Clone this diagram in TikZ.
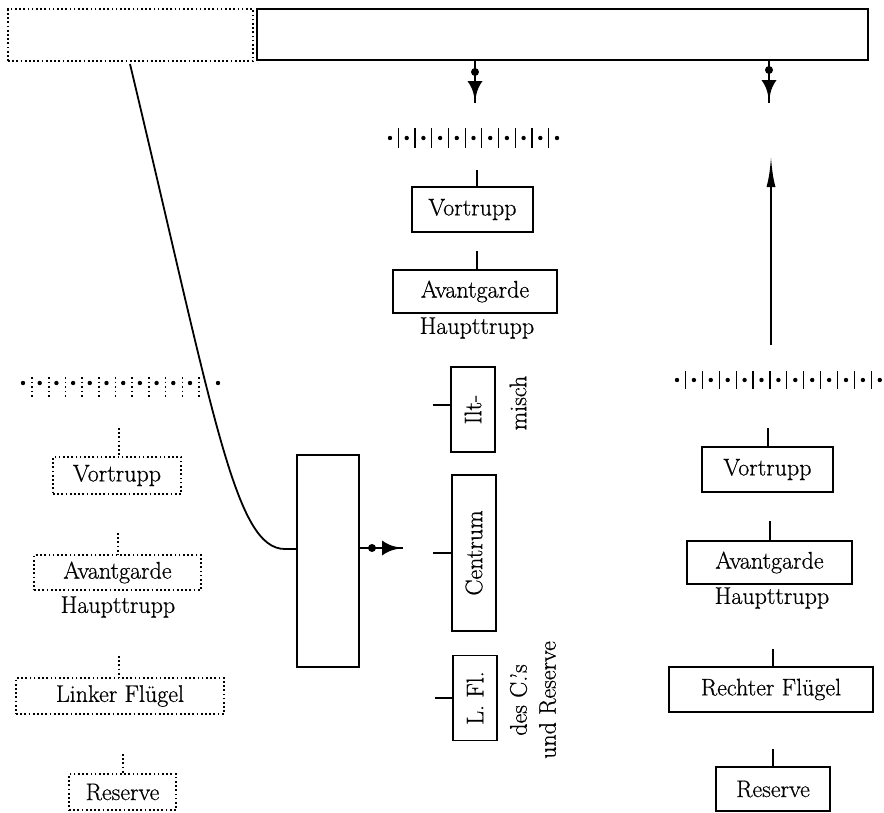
\documentclass[tikz,border=0pt]{standalone}
\usepackage{fontspec}
\setmainfont{Latin Modern Roman}[FakeBold=0.6]
\usetikzlibrary{calc}
\begin{document}
\begin{tikzpicture}[x=1pt,y=-1pt,
  every node/.style={font=\fontsize{24}{29}\selectfont, inner sep=0pt, outer sep=0pt},
  solidbox/.style={draw, line width=1.6pt},
  thickbox/.style={draw, line width=2.4pt},
  dotbox/.style={draw, line width=1.7pt, dash pattern=on 1.7pt off 2.5pt},
  tick/.style={line width=1.5pt},
  dottick/.style={line width=1.7pt, dash pattern=on 1.7pt off 2.5pt},
  bar/.style={line width=1.2pt},
  dotbar/.style={line width=1.6pt, dash pattern=on 1.6pt off 3pt},
  conn/.style={line width=1.8pt}]
\useasboundingbox (0,0) rectangle (884,812);
\fill[white] (0,0) rectangle (884,812);

% top boxes
\node[dotbox, minimum width=245pt, minimum height=52pt] (topL) at (130.5,35) {};
\node[thickbox, minimum width=611pt, minimum height=51pt] (topR) at (562.5,34.5) {};

% middle column
\node[solidbox, minimum width=121pt, minimum height=45pt] (mVor) at (472.5,209.5) {Vortrupp};
\node[solidbox, minimum width=164pt, minimum height=43pt] (mAv) at (475,291.5) {Avantgarde};
\node (mHaupt) at (477,328) {Haupttrupp};
\node[solidbox, minimum width=44pt, minimum height=85pt] (mIlt) at (473,409.5) {};
\node[rotate=90] (mIltT) at (mIlt) {Ilt-};
\node[rotate=90] (misch) at (518,403) {misch};
\node[solidbox, minimum width=44pt, minimum height=156pt] (mCen) at (474,553) {};
\node[rotate=90] (mCenT) at (mCen) {Centrum};
\node[solidbox, minimum width=44pt, minimum height=85pt] (mLFl) at (475,698) {};
\node[rotate=90] (mLFlT) at (mLFl) {L. Fl.};
\node[rotate=90, align=center] (desC) at (533,700) {des C.’s\\und Reserve};

% big box
\node[solidbox, minimum width=62pt, minimum height=212pt] (big) at (328,561) {};

% right column
\node[solidbox, minimum width=131pt, minimum height=45pt] (rVor) at (767.5,469.5) {Vortrupp};
\node[solidbox, minimum width=165pt, minimum height=43pt] (rAv) at (769.5,562.5) {Avantgarde};
\node (rHaupt) at (772,598) {Haupttrupp};
\node[solidbox, minimum width=204pt, minimum height=45pt] (rRF) at (771,689.5) {Rechter Flügel};
\node[solidbox, minimum width=114pt, minimum height=44pt] (rRes) at (773,789) {Reserve};

% left column
\node[dotbox, minimum width=128pt, minimum height=37pt] (lVor) at (117,475.5) {Vortrupp};
\node[dotbox, minimum width=167pt, minimum height=35pt] (lAv) at (117.5,572.5) {Avantgarde};
\node (lHaupt) at (118,607) {Haupttrupp};
\node[dotbox, minimum width=208pt, minimum height=36pt] (lLF) at (120,696) {Linker Flügel};
\node[dotbox, minimum width=107pt, minimum height=36pt] (lRes) at (122.5,792) {Reserve};

% rows of dots and bars
\foreach \i in {0,...,10} \fill ({390+\i*16.7},138) circle[radius=2.2];
\foreach \i in {0,...,9} \draw[bar] ({398.35+\i*16.7},128) -- ++(0,20);
\foreach \i in {0,...,12} \fill ({677+\i*16.9},380) circle[radius=2.2];
\foreach \i in {0,...,11} \draw[bar] ({685.45+\i*16.9},371) -- ++(0,18);
\foreach \i in {0,...,10} \fill ({23+\i*16.7},383) circle[radius=2.2];
\fill (218,383) circle[radius=2.2];
\foreach \i in {0,...,10} \draw[dotbar] ({32+\i*16.7},377) -- ++(0,21);

% ticks middle
\coordinate (t1) at (477,170); \draw[tick] (t1) -- (t1 |- mVor.north);
\coordinate (t2) at (477,251); \draw[tick] (t2) -- (t2 |- mAv.north);
\coordinate (t3) at (433,405); \draw[tick] (t3) -- (t3 -| mIlt.west);
\coordinate (t4) at (433,553); \draw[tick] (t4) -- (t4 -| mCen.west);
\coordinate (t5) at (435,698); \draw[tick] (t5) -- (t5 -| mLFl.west);
% ticks right
\coordinate (r1) at (768,428); \draw[tick] (r1) -- (r1 |- rVor.north);
\coordinate (r2) at (770,521); \draw[tick] (r2) -- (r2 |- rAv.north);
\coordinate (r3) at (773,649); \draw[tick] (r3) -- (r3 |- rRF.north);
\coordinate (r4) at (773,749); \draw[tick] (r4) -- (r4 |- rRes.north);
% ticks left
\coordinate (l1) at (119,428); \draw[dottick] (l1) -- (l1 |- lVor.north);
\coordinate (l2) at (118,533); \draw[dottick] (l2) -- (l2 |- lAv.north);
\coordinate (l3) at (119,656); \draw[dottick] (l3) -- (l3 |- lLF.north);
\coordinate (l4) at (123,754); \draw[dottick] (l4) -- (l4 |- lRes.north);

% march arrows from top box
\coordinate (a1) at (475,103);
\draw[tick] (a1 |- topR.south) -- (a1);
\fill (475,72) circle[radius=4];
\fill (467.5,81) -- (482.5,81) .. controls (479,86) and (477,90) .. (475.8,97) -- (474.2,97) .. controls (473,90) and (471,86) .. (467.5,81) -- cycle;
\coordinate (a2) at (769,103);
\draw[tick] (a2 |- topR.south) -- (a2);
\fill (769,70) circle[radius=4];
\fill (761.5,80) -- (776.5,80) .. controls (773,85) and (771,89) .. (769.8,96) -- (768.2,96) .. controls (767,89) and (765,85) .. (761.5,80) -- cycle;

% upward arrow right
\coordinate (u0) at (771,345);
\coordinate (u1) at (771,158);
\draw[tick] (u0) -- (771,180);
\fill (u1) .. controls (772,170) and (773,178) .. (775.5,187) -- (766.5,187) .. controls (769,178) and (770,170) .. (u1) -- cycle;

% curve from top left box to big box
\coordinate (cs) at (130,64);
\coordinate (cj) at (285,549);
\draw[conn] (cs) .. controls (215,420) and (235,549) .. (cj) -- (cj -| big.west);

% arrow from big box to centre
\coordinate (h1) at (403,548);
\draw[tick] (big.east |- h1) -- (h1);
\fill (372,548) circle[radius=4];
\fill (382,540.5) -- (382,555.5) .. controls (387,552) and (391,550) .. (398,548.8) -- (398,547.2) .. controls (391,546) and (387,544) .. (382,540.5) -- cycle;
\end{tikzpicture}
\end{document}
